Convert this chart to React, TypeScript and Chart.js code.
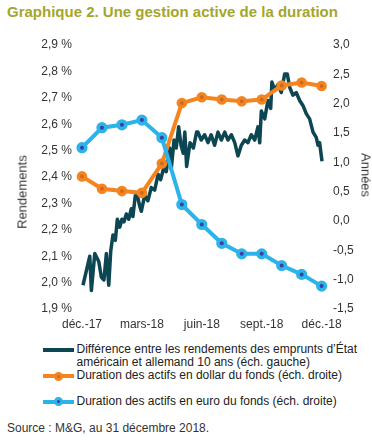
import React, { useEffect, useRef } from 'react';
import { Chart, registerables } from 'chart.js';

Chart.register(...registerables);

// ---- data ----
const axisMonths = [0, 3, 6, 9, 12];
const axisLabels = ['déc.-17', 'mars-18', 'juin-18', 'sept.-18', 'déc.-18'];
const leftTicks = [1.9, 2.0, 2.1, 2.2, 2.3, 2.4, 2.5, 2.6, 2.7, 2.8, 2.9];
const rightTicks = [-1.5, -1.0, -0.5, 0.0, 0.5, 1.0, 1.5, 2.0, 2.5, 3.0];

const fundMonths = [0, 1, 2, 3, 4, 5, 6, 7, 8, 9, 10, 11, 12];
const usdDuration = [0.76, 0.55, 0.51, 0.48, 0.98, 2.01, 2.11, 2.07, 2.04, 2.07, 2.31, 2.36, 2.3];
const eurDuration = [1.25, 1.59, 1.64, 1.72, 1.42, 0.28, -0.06, -0.38, -0.56, -0.56, -0.76, -0.91, -1.11];

const spreadMonths = [
  0.05, 0.39, 0.47, 0.64, 0.84, 0.97, 1.1, 1.22, 1.34, 1.44, 1.55, 1.67, 1.77, 1.89, 2.0, 2.1, 2.22, 2.34,
  2.47, 2.55, 2.67, 2.77, 2.89, 2.97, 3.14, 3.3, 3.47, 3.64, 3.81, 3.94, 4.11, 4.22, 4.39, 4.47, 4.61, 4.72,
  4.84, 4.96, 5.07, 5.15, 5.24, 5.41, 5.58, 5.74, 5.81, 5.97, 6.14, 6.31, 6.47, 6.64, 6.81, 6.98, 7.15, 7.31,
  7.48, 7.65, 7.81, 7.98, 8.15, 8.31, 8.48, 8.65, 8.81, 8.9, 8.98, 9.15, 9.31, 9.45, 9.51, 9.65, 9.81, 9.98,
  10.15, 10.28, 10.4, 10.56, 10.73, 10.9, 11.07, 11.23, 11.4, 11.57, 11.73, 11.82, 11.9, 12.02,
];
const spreadValues = [
  1.99, 2.1, 1.97, 2.11, 2.08, 2.02, 2.01, 2.11, 1.99, 2.12, 2.18, 2.16, 2.24, 2.21, 2.24, 2.23, 2.26, 2.24,
  2.28, 2.25, 2.33, 2.33, 2.29, 2.27, 2.33, 2.31, 2.36, 2.35, 2.41, 2.39, 2.44, 2.42, 2.51, 2.43, 2.54, 2.51,
  2.59, 2.52, 2.49, 2.57, 2.44, 2.53, 2.51, 2.57, 2.57, 2.54, 2.56, 2.53, 2.56, 2.52, 2.57, 2.54, 2.57, 2.54,
  2.56, 2.53, 2.48, 2.52, 2.54, 2.53, 2.56, 2.54, 2.59, 2.53, 2.65, 2.62, 2.69, 2.66, 2.76, 2.73, 2.75, 2.72,
  2.79, 2.79, 2.74, 2.71, 2.72, 2.69, 2.67, 2.64, 2.62, 2.57, 2.55, 2.52, 2.53, 2.46,
];

const legendItems = [
  'Différence entre les rendements des emprunts d\u2019État',
  'américain et allemand 10 ans (éch. gauche)',
  'Duration des actifs en dollar du fonds (éch. droite)',
  'Duration des actifs en euro du fonds (éch. droite)',
];

// ---- styles ----
const DARK = '#0c4652';
const ORANGE = '#f5841f';
const ORANGE_DARK = '#c96a1e';
const BLUE = '#2bb3ea';
const BLUE_DARK = '#3d3f9e';
const TEXT = '#333333';
const FONT = 'Arial, "Liberation Sans", Helvetica, sans-serif';

const fmt = (v: number) => v.toFixed(1).replace('.', ',');

export default function App() {
  const ref = useRef<HTMLCanvasElement | null>(null);

  useEffect(() => {
    if (!ref.current) return;
    const tickFont = { family: FONT, size: 12 };
    const chart = new Chart(ref.current, {
      type: 'line',
      data: {
        datasets: [
          {
            label: 'spread',
            data: spreadMonths.map((m, i) => ({ x: m, y: spreadValues[i] })),
            yAxisID: 'y',
            borderColor: DARK,
            borderWidth: 3.5,
            borderJoinStyle: 'round',
            pointRadius: 0,
            tension: 0,
            order: 3,
          },
          {
            label: 'usd',
            data: fundMonths.map((m, i) => ({ x: m, y: usdDuration[i] })),
            yAxisID: 'y1',
            borderColor: ORANGE,
            borderWidth: 4,
            pointRadius: 3.6,
            pointBorderWidth: 3.4,
            pointBackgroundColor: ORANGE_DARK,
            pointBorderColor: ORANGE,
            tension: 0,
            order: 2,
          },
          {
            label: 'eur',
            data: fundMonths.map((m, i) => ({ x: m, y: eurDuration[i] })),
            yAxisID: 'y1',
            borderColor: BLUE,
            borderWidth: 4,
            pointRadius: 3.8,
            pointBorderWidth: 3.6,
            pointBackgroundColor: BLUE_DARK,
            pointBorderColor: BLUE,
            tension: 0,
            order: 1,
          },
        ],
      },
      options: {
        animation: false,
        responsive: false,
        maintainAspectRatio: false,
        layout: { padding: { top: 15, bottom: 0, left: 0, right: 0 } },
        plugins: { legend: { display: false }, tooltip: { enabled: false } },
        scales: {
          x: {
            type: 'linear',
            min: -0.3,
            max: 12.42,
            grid: { display: false, drawTicks: false },
            border: { display: false },
            ticks: {
              font: tickFont,
              color: TEXT,
              padding: 8,
              autoSkip: false,
              maxRotation: 0,
              callback: (v: any) => {
                const i = axisMonths.indexOf(Number(v));
                return i >= 0 ? axisLabels[i] : '';
              },
            },
            afterBuildTicks: (ax: any) => {
              ax.ticks = axisMonths.map((v) => ({ value: v }));
            },
            afterFit: (ax: any) => {
              ax.height = 31;
            },
          },
          y: {
            type: 'linear',
            position: 'left',
            min: 1.9,
            max: 2.9,
            grid: { display: false, drawTicks: false },
            border: { display: false },
            ticks: {
              font: tickFont,
              color: TEXT,
              padding: 4,
              callback: (v: any) => fmt(Number(v)) + ' %',
            },
            afterBuildTicks: (ax: any) => {
              ax.ticks = leftTicks.map((v) => ({ value: v }));
            },
            afterFit: (ax: any) => {
              ax.width = 76;
            },
          },
          y1: {
            type: 'linear',
            position: 'right',
            min: -1.5,
            max: 3.0,
            grid: { display: false, drawTicks: false },
            border: { display: false },
            ticks: {
              font: tickFont,
              color: TEXT,
              padding: 3,
              callback: (v: any) => fmt(Number(v)),
            },
            afterBuildTicks: (ax: any) => {
              ax.ticks = rightTicks.map((v) => ({ value: v }));
            },
            afterFit: (ax: any) => {
              ax.width = 42;
            },
          },
        },
      },
    } as any);
    return () => chart.destroy();
  }, []);

  const txt: React.CSSProperties = {
    position: 'absolute',
    fontFamily: FONT,
    fontSize: 12,
    lineHeight: '13.3px',
    color: '#222',
    whiteSpace: 'nowrap',
  };

  const marker = (y: number, color: string, dot: string | null) => (
    <>
      <div style={{ position: 'absolute', left: 43, top: y - 2, width: 31, height: 4, background: color }} />
      {dot && (
        <div
          style={{
            position: 'absolute',
            left: 58.5 - 4.5,
            top: y - 4.5,
            width: 9,
            height: 9,
            borderRadius: '50%',
            boxSizing: 'border-box',
            border: `3px solid ${color}`,
            background: dot,
          }}
        />
      )}
    </>
  );

  return (
    <div style={{ position: 'absolute', left: 0, top: 0, width: 372, height: 441, background: '#fff' }}>
      <div
        style={{
          position: 'absolute',
          left: 7,
          top: 3,
          fontFamily: FONT,
          fontWeight: 'bold',
          fontSize: 15,
          lineHeight: '18px',
          color: '#a4a62a',
          whiteSpace: 'nowrap',
        }}
      >
        Graphique 2. Une gestion active de la duration
      </div>
      <canvas ref={ref} width={372} height={310} style={{ position: 'absolute', left: 0, top: 30, width: 372, height: 310 }} />
      <div
        style={{
          position: 'absolute',
          left: 21.5,
          top: 192,
          transform: 'translate(-50%, -50%) rotate(-90deg)',
          fontFamily: FONT,
          fontSize: 13,
          color: TEXT,
          whiteSpace: 'nowrap',
        }}
      >
        Rendements
      </div>
      <div
        style={{
          position: 'absolute',
          left: 365.5,
          top: 175,
          transform: 'translate(-50%, -50%) rotate(90deg)',
          fontFamily: FONT,
          fontSize: 13,
          color: TEXT,
          whiteSpace: 'nowrap',
        }}
      >
        Années
      </div>
      {marker(350, DARK, null)}
      <div style={{ ...txt, left: 76.5, top: 343 }}>
        {legendItems[0]}
        <br />
        {legendItems[1]}
      </div>
      {marker(376, ORANGE, ORANGE_DARK)}
      <div style={{ ...txt, left: 76.5, top: 369 }}>{legendItems[2]}</div>
      {marker(401.7, BLUE, BLUE_DARK)}
      <div style={{ ...txt, left: 76.5, top: 394.7 }}>{legendItems[3]}</div>
      <div style={{ ...txt, left: 7, top: 422.3, color: '#333' }}>Source : M&amp;G, au 31 décembre 2018.</div>
    </div>
  );
}
